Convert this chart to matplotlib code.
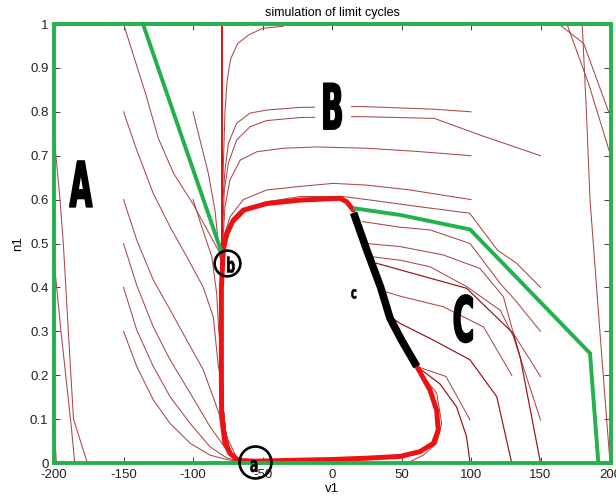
import matplotlib
matplotlib.use('Agg')
import matplotlib.pyplot as plt
from matplotlib import patheffects
from matplotlib.transforms import Affine2D

plt.rcParams['font.family'] = ['Liberation Sans', 'DejaVu Sans']

# ---------------- text / ticks ----------------
title = "simulation of limit cycles"
xlabel = "v1"
ylabel = "n1"
xticks = [-200, -150, -100, -50, 0, 50, 100, 150, 200]
yticks = [0, 0.1, 0.2, 0.3, 0.4, 0.5, 0.6, 0.7, 0.8, 0.9, 1]
ytick_labels = ["0", "0.1", "0.2", "0.3", "0.4", "0.5", "0.6", "0.7", "0.8", "0.9", "1"]

# ---------------- common tail along the slow manifold ----------------
tail_v = [-79.6, -79.6, -79.4, -79.0, -78.2, -76.5, -74.0, -71.0, -67.5]
tail_n = [0.45, 0.35, 0.25, 0.18, 0.12, 0.07, 0.035, 0.015, 0.003]

# ---------------- thin trajectories ----------------
# region A (left)
A_edge1_v = [-200, -195.7, -193.3, -189.7, -186, -176]
A_edge1_n = [0.747, 0.6, 0.5, 0.3, 0.1, 0.0]
A_edge2_v = [-200, -195, -190.9, -187.5, -185.1]
A_edge2_n = [0.462, 0.3, 0.18, 0.08, 0.0]
A_edge3_v = [-200, -199, -198.3]
A_edge3_n = [0.08, 0.04, 0.0]
A_150_10_v = [-150, -143, -134, -125, -114, -100, -87, -81]
A_150_10_n = [1.0, 0.93, 0.84, 0.74, 0.66, 0.59, 0.515, 0.48]
A_150_08_v = [-150, -140.5, -128.6, -116.5, -104.5, -92.6, -85.4, -81.8]
A_150_08_n = [0.8, 0.713, 0.614, 0.538, 0.47, 0.40, 0.333, 0.22]
A_150_06_v = [-150, -140.5, -128.6, -116.5, -104.5, -92.6, -83, -75.8, -67.4]
A_150_06_n = [0.6, 0.508, 0.417, 0.349, 0.28, 0.212, 0.128, 0.06, 0.004]
A_150_05_v = [-150, -140.5, -128.6, -116.5, -102, -87.8, -75.8, -67.4]
A_150_05_n = [0.5, 0.405, 0.31, 0.235, 0.159, 0.083, 0.03, 0.004]
A_150_04_v = [-150, -140.5, -128.6, -116.5, -102, -87.8, -76, -67.4]
A_150_04_n = [0.4, 0.303, 0.22, 0.151, 0.09, 0.037, 0.012, 0.004]
A_150_03_v = [-150, -140.5, -128.6, -116.5, -102, -87.8, -76, -67.4]
A_150_03_n = [0.3, 0.22, 0.144, 0.09, 0.045, 0.018, 0.008, 0.004]
A_100_06_v = [-100, -93.7, -86.5, -83, -81.5]
A_100_06_n = [0.6, 0.538, 0.47, 0.387, 0.3]

# region B (top)
B_top_v = [-35, -50, -60, -68, -73, -75.5, -77, -78, -78.8, -79.3]
B_top_n = [0.995, 0.99, 0.975, 0.955, 0.92, 0.87, 0.8, 0.7, 0.6, 0.5]
B_m100_08_v = [-100, -95, -89, -84.2, -81.8]
B_m100_08_n = [0.8, 0.736, 0.66, 0.576, 0.5]
B_100_08_v = [100, 73, 21, -23, -47, -59, -68.6, -74.6, -77, -78.5]
B_100_08_n = [0.8, 0.806, 0.812, 0.81, 0.804, 0.797, 0.774, 0.728, 0.667, 0.6]
B_150_07_v = [150, 106.5, 73.6, 20, -23, -47, -59, -68.6, -74.6, -77.5]
B_150_07_n = [0.70, 0.747, 0.785, 0.789, 0.787, 0.78, 0.766, 0.736, 0.683, 0.62]
B_100_07_v = [100, 60, 25, -11, -35, -54, -66, -73.4, -77]
B_100_07_n = [0.70, 0.71, 0.717, 0.72, 0.717, 0.709, 0.69, 0.645, 0.584]
B_100_06_v = [100, 56, 25, 1, -23, -47, -63.8, -73.4, -77]
B_100_06_n = [0.6, 0.622, 0.633, 0.637, 0.63, 0.622, 0.6, 0.561, 0.523]
B_150_04_v = [150, 132.8, 119, 99, 60, 30, 8, -23, -47, -61.4, -71, -75.8]
B_150_04_n = [0.40, 0.455, 0.485, 0.569, 0.585, 0.598, 0.607, 0.607, 0.595, 0.576, 0.546, 0.508]

# region C (right, below)
C_150_03_v = [22, 49, 70.5, 99.3, 121, 131.7, 150]
C_150_03_n = [0.55, 0.537, 0.531, 0.5, 0.409, 0.371, 0.30]
C_150_02_v = [25, 49, 80, 106.5, 123.3, 130.5, 150]
C_150_02_n = [0.50, 0.493, 0.474, 0.443, 0.379, 0.295, 0.197]
C_150_01_v = [28.6, 49, 70.5, 96.8, 121, 130.5, 150]
C_150_01_n = [0.47, 0.462, 0.447, 0.402, 0.348, 0.288, 0.098]
C_150_00_v = [32, 49, 96.8, 130.5, 135.3, 150]
C_150_00_n = [0.455, 0.44, 0.398, 0.295, 0.242, 0.0]
C_130_02_v = [34.5, 49, 80, 109, 129.3]
C_130_02_n = [0.394, 0.38, 0.356, 0.31, 0.2]
C_130_00_v = [42, 49, 72.9, 99.3, 118.5, 129.3]
C_130_00_n = [0.333, 0.318, 0.28, 0.235, 0.151, 0.0]
C_100_01_v = [61, 82, 99.3]
C_100_01_n = [0.22, 0.197, 0.098]
C_100_00_v = [61, 77.7, 89.6, 96.8, 99.3]
C_100_00_n = [0.22, 0.18, 0.128, 0.06, 0.0]
C_050_00_v = [61, 75.3, 78.9, 75.3, 65.7, 56]
C_050_00_n = [0.216, 0.159, 0.09, 0.045, 0.018, 0.003]

# far right
R_1_v = [163, 181, 199]
R_1_n = [1.0, 0.956, 0.80]
R_2_v = [169, 185, 200]
R_2_n = [1.0, 0.86, 0.705]
R_3_v = [180, 183, 185.6, 192.8, 200]
R_3_n = [1.0, 0.8, 0.6, 0.296, 0.0]

thin_trajs = [
    (A_edge1_v, A_edge1_n, False), (A_edge2_v, A_edge2_n, False), (A_edge3_v, A_edge3_n, False),
    (A_150_10_v, A_150_10_n, True), (A_150_08_v, A_150_08_n, True),
    (A_150_06_v, A_150_06_n, False), (A_150_05_v, A_150_05_n, False),
    (A_150_04_v, A_150_04_n, False), (A_150_03_v, A_150_03_n, False),
    (A_100_06_v, A_100_06_n, True),
    (B_top_v, B_top_n, True), (B_m100_08_v, B_m100_08_n, True),
    (B_100_08_v, B_100_08_n, True), (B_150_07_v, B_150_07_n, True),
    (B_100_07_v, B_100_07_n, True), (B_100_06_v, B_100_06_n, True),
    (B_150_04_v, B_150_04_n, True),
    (C_150_03_v, C_150_03_n, False), (C_150_02_v, C_150_02_n, False),
    (C_150_01_v, C_150_01_n, False), (C_130_02_v, C_130_02_n, False),
    (C_100_01_v, C_100_01_n, False), (C_050_00_v, C_050_00_n, False),
    (R_1_v, R_1_n, False), (R_2_v, R_2_n, False), (R_3_v, R_3_n, False),
]
dark_trajs = [(C_150_00_v, C_150_00_n), (C_130_00_v, C_130_00_n), (C_100_00_v, C_100_00_n)]

# unstable branch (thin bright red)
manifold_v = [-79.5, -79.5]
manifold_n = [1.0, 0.48]

# limit cycle (thick red) and segment c (thick black)
cycle_v = [15.3, 10.6, 5.8, -23, -47, -63.8, -71, -75.8, -78.2, -79.6, -79.6, -79.4, -77,
           -73.4, -67.4, -55, -30, 0, 25, 49, 63.3, 73, 76.4, 75.3, 70.5, 61]
cycle_n = [0.576, 0.595, 0.603, 0.599, 0.591, 0.576, 0.553, 0.523, 0.485, 0.40, 0.2, 0.105, 0.045,
           0.022, 0.006, 0.004, 0.006, 0.008, 0.011, 0.015, 0.026, 0.045, 0.075, 0.12, 0.166, 0.22]
seg_c_v = [15.5, 25, 35, 41.7, 50, 61]
seg_c_n = [0.57, 0.485, 0.40, 0.33, 0.28, 0.22]

# green region borders
border_outer_v = [-200, -200, 200.5, 200.5, -200]
border_outer_n = [0.0, 1.0, 1.0, 0.0, 0.0]
border_AB_v = [-136, -80]
border_AB_n = [1.0, 0.485]
border_BC_v = [16.5, 49, 99.3, 185.6, 191.6, 200.5]
border_BC_n = [0.58, 0.565, 0.532, 0.25, 0.0, 0.0]

# annotations
region_labels = ["A", "B", "C"]
region_v = [-180.6, 0.7, 95]
region_n = [0.625, 0.802, 0.318]
region_box = [False, True, False]
point_labels = ["a", "b", "c"]
point_v = [-56, -72.9, 15.8]
point_n = [-0.006, 0.449, 0.385]
point_size = [12, 12, 9.5]
circle_v = [-55.4, -75.5]
circle_n = [0.003, 0.456]
circle_size = [23, 18.5]


class Squash(patheffects.AbstractPathEffect):
    """Draw glyphs narrower/taller and heavier (condensed display face look)."""
    def __init__(self, sx, sy, stroke=0.0):
        super().__init__()
        self.sx, self.sy, self.stroke = sx, sy, stroke

    def draw_path(self, renderer, gc, tpath, affine, rgbFace=None):
        verts = tpath.vertices
        cx = 0.5 * (verts[:, 0].min() + verts[:, 0].max())
        cy = 0.5 * (verts[:, 1].min() + verts[:, 1].max())
        t = Affine2D().translate(-cx, -cy).scale(self.sx, self.sy).translate(cx, cy)
        gc0 = renderer.new_gc()
        gc0.copy_properties(gc)
        if self.stroke > 0:
            gc0.set_linewidth(self.stroke)
            gc0.set_foreground(rgbFace if rgbFace is not None else 'black')
        renderer.draw_path(gc0, tpath, t + affine, rgbFace)
        gc0.restore()


# ---------------- figure ----------------
fig = plt.figure(figsize=(6.16, 4.99), dpi=100)
ax = fig.add_axes([0.0877, 0.0721, 0.9026, 0.8798])

thin_col = '#a84848'
for v, n, join in thin_trajs:
    vv, nn = list(v), list(n)
    if join:
        last = nn[-1]
        for tv, tn in zip(tail_v, tail_n):
            if tn < last - 0.01:
                vv.append(tv)
                nn.append(tn)
    ax.plot(vv, nn, color=thin_col, lw=0.75, zorder=2)
for v, n in dark_trajs:
    ax.plot(v, n, color='#8e1414', lw=0.85, zorder=2)

ax.plot(manifold_v, manifold_n, color='#e01010', lw=1.4, zorder=3)
ax.plot(cycle_v, cycle_n, color='#ee1111', lw=3.6, solid_capstyle='round',
        solid_joinstyle='round', zorder=4)
ax.plot(seg_c_v, seg_c_n, color='black', lw=5.5, solid_capstyle='butt', zorder=5)

green = '#22b14c'
for v, n in [(border_outer_v, border_outer_n), (border_AB_v, border_AB_n),
             (border_BC_v, border_BC_n)]:
    ax.plot(v, n, color=green, lw=2.8, clip_on=False, zorder=6,
            solid_joinstyle='miter')

for t, v, n, boxed in zip(region_labels, region_v, region_n, region_box):
    kw = {}
    if boxed:
        kw['bbox'] = dict(facecolor='white', edgecolor='none', pad=0)
    ax.text(v, n, t, fontsize=34, fontweight='bold', family='DejaVu Sans',
            ha='center', va='center', zorder=7,
            path_effects=[Squash(0.62, 1.33, stroke=1.2)], **kw)

for v, n, s in zip(circle_v, circle_n, circle_size):
    ax.plot([v], [n], marker='o', ms=s, mfc='none', mec='black', mew=1.9,
            clip_on=False, zorder=8)
for t, v, n, fs in zip(point_labels, point_v, point_n, point_size):
    ax.text(v, n, t, fontsize=fs, fontweight='bold', family='DejaVu Sans',
            ha='center', va='center', zorder=9, clip_on=False,
            path_effects=[Squash(0.75, 1.25, stroke=0.4)])

ax.set_xlim(-200, 200)
ax.set_ylim(0, 1)
ax.set_xticks(xticks)
ax.set_xticklabels([str(x) for x in xticks])
ax.set_yticks(yticks)
ax.set_yticklabels(ytick_labels)
ax.tick_params(direction='in', length=4, width=0.6, top=True, right=True,
               labelsize=9.5, colors='#222222', pad=4)
for s in ax.spines.values():
    s.set_linewidth(0.6)
ax.set_title(title, fontsize=9, pad=6)
ax.set_xlabel(xlabel, fontsize=9.5, labelpad=2)
ax.set_ylabel(ylabel, fontsize=9.5, labelpad=4)

fig.savefig('out.png', dpi=100, facecolor='white')
